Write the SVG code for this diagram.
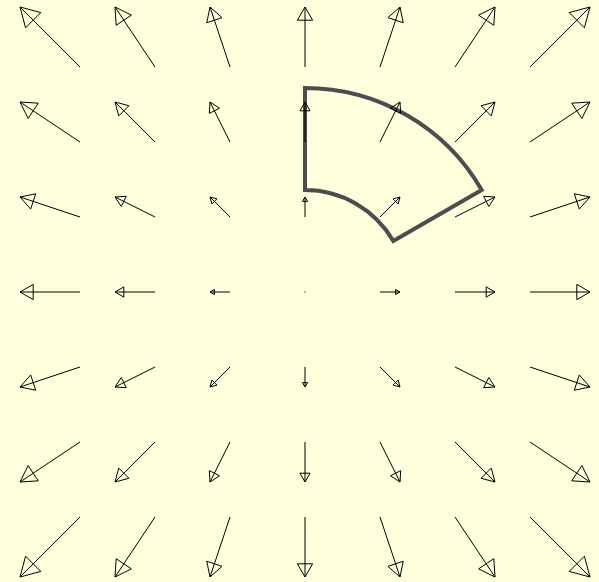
<svg xmlns="http://www.w3.org/2000/svg" width="599" height="582" viewBox="0 0 599 582">
<style>
.a{fill:none;stroke:#000;stroke-width:1;stroke-linejoin:miter}
.r{fill:none;stroke:#4d4d4d;stroke-width:4;stroke-linejoin:miter}
</style>
<rect x="0" y="0" width="599" height="582" fill="#ffffdd"/>
<g id="region">
<path class="r" d="M305,88 A204,204 0 0 1 481.67,190 L393.33,241 A102,102 0 0 0 305,190 Z"/>
</g>
<g id="field">
<path class="a" d="M80,67 L20,7 M40.82,12.58 L20,7 L25.58,27.82 Z"/>
<path class="a" d="M155,67 L115,7 M131.42,15.12 L115,7 L116.18,25.28 Z"/>
<path class="a" d="M230,67 L210,7 M222.02,17.66 L210,7 L206.78,22.74 Z"/>
<path class="a" d="M305,67 L305,7 M312.62,20.2 L305,7 L297.38,20.2 Z"/>
<path class="a" d="M380,67 L400,7 M403.22,22.74 L400,7 L387.98,17.66 Z"/>
<path class="a" d="M455,67 L495,7 M493.82,25.28 L495,7 L478.58,15.12 Z"/>
<path class="a" d="M530,67 L590,7 M584.42,27.82 L590,7 L569.18,12.58 Z"/>

<path class="a" d="M80,142 L20,102 M38.28,103.18 L20,102 L28.12,118.42 Z"/>
<path class="a" d="M155,142 L115,102 M128.88,105.72 L115,102 L118.72,115.88 Z"/>
<path class="a" d="M230,142 L210,102 M219.48,108.26 L210,102 L209.32,113.34 Z"/>
<path class="a" d="M305,142 L305,102 M310.08,110.8 L305,102 L299.92,110.8 Z"/>
<path class="a" d="M380,142 L400,102 M400.68,113.34 L400,102 L390.52,108.26 Z"/>
<path class="a" d="M455,142 L495,102 M491.28,115.88 L495,102 L481.12,105.72 Z"/>
<path class="a" d="M530,142 L590,102 M581.88,118.42 L590,102 L571.72,103.18 Z"/>

<path class="a" d="M80,217 L20,197 M35.74,193.78 L20,197 L30.66,209.02 Z"/>
<path class="a" d="M155,217 L115,197 M126.34,196.32 L115,197 L121.26,206.48 Z"/>
<path class="a" d="M230,217 L210,197 M216.94,198.86 L210,197 L211.86,203.94 Z"/>
<path class="a" d="M305,217 L305,197 M307.54,201.4 L305,197 L302.46,201.4 Z"/>
<path class="a" d="M380,217 L400,197 M398.14,203.94 L400,197 L393.06,198.86 Z"/>
<path class="a" d="M455,217 L495,197 M488.74,206.48 L495,197 L483.66,196.32 Z"/>
<path class="a" d="M530,217 L590,197 M579.34,209.02 L590,197 L574.26,193.78 Z"/>

<path class="a" d="M80,292 L20,292 M33.2,284.38 L20,292 L33.2,299.62 Z"/>
<path class="a" d="M155,292 L115,292 M123.8,286.92 L115,292 L123.8,297.08 Z"/>
<path class="a" d="M230,292 L210,292 M214.4,289.46 L210,292 L214.4,294.54 Z"/>
<rect x="304.5" y="291.5" width="1" height="1" fill="#000"/>
<path class="a" d="M380,292 L400,292 M395.6,294.54 L400,292 L395.6,289.46 Z"/>
<path class="a" d="M455,292 L495,292 M486.2,297.08 L495,292 L486.2,286.92 Z"/>
<path class="a" d="M530,292 L590,292 M576.8,299.62 L590,292 L576.8,284.38 Z"/>

<path class="a" d="M80,367 L20,387 M30.66,374.98 L20,387 L35.74,390.22 Z"/>
<path class="a" d="M155,367 L115,387 M121.26,377.52 L115,387 L126.34,387.68 Z"/>
<path class="a" d="M230,367 L210,387 M211.86,380.06 L210,387 L216.94,385.14 Z"/>
<path class="a" d="M305,367 L305,387 M302.46,382.6 L305,387 L307.54,382.6 Z"/>
<path class="a" d="M380,367 L400,387 M393.06,385.14 L400,387 L398.14,380.06 Z"/>
<path class="a" d="M455,367 L495,387 M483.66,387.68 L495,387 L488.74,377.52 Z"/>
<path class="a" d="M530,367 L590,387 M574.26,390.22 L590,387 L579.34,374.98 Z"/>

<path class="a" d="M80,442 L20,482 M28.12,465.58 L20,482 L38.28,480.82 Z"/>
<path class="a" d="M155,442 L115,482 M118.72,468.12 L115,482 L128.88,478.28 Z"/>
<path class="a" d="M230,442 L210,482 M209.32,470.66 L210,482 L219.48,475.74 Z"/>
<path class="a" d="M305,442 L305,482 M299.92,473.2 L305,482 L310.08,473.2 Z"/>
<path class="a" d="M380,442 L400,482 M390.52,475.74 L400,482 L400.68,470.66 Z"/>
<path class="a" d="M455,442 L495,482 M481.12,478.28 L495,482 L491.28,468.12 Z"/>
<path class="a" d="M530,442 L590,482 M571.72,480.82 L590,482 L581.88,465.58 Z"/>

<path class="a" d="M80,517 L20,577 M25.58,556.18 L20,577 L40.82,571.42 Z"/>
<path class="a" d="M155,517 L115,577 M116.18,558.72 L115,577 L131.42,568.88 Z"/>
<path class="a" d="M230,517 L210,577 M206.78,561.26 L210,577 L222.02,566.34 Z"/>
<path class="a" d="M305,517 L305,577 M297.38,563.8 L305,577 L312.62,563.8 Z"/>
<path class="a" d="M380,517 L400,577 M387.98,566.34 L400,577 L403.22,561.26 Z"/>
<path class="a" d="M455,517 L495,577 M478.58,568.88 L495,577 L493.82,558.72 Z"/>
<path class="a" d="M530,517 L590,577 M569.18,571.42 L590,577 L584.42,556.18 Z"/>
</g>
</svg>
